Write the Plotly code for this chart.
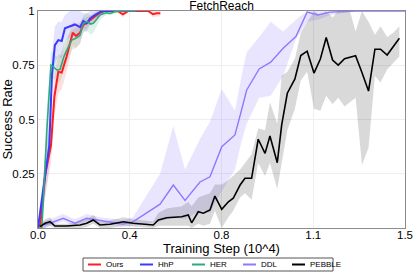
import plotly.graph_objects as go

# ---------------- data (training step in units of 10^4) ----------------
series_names = ["Ours", "HhP", "HER", "DDL", "PEBBLE"]

ours_x = [0, 0.01, 0.03, 0.053, 0.067, 0.083, 0.097, 0.117, 0.142, 0.155, 0.172, 0.185, 0.199,
          0.215, 0.226, 0.24, 0.253, 0.27, 0.3, 0.325, 0.347, 0.37, 0.4, 0.43, 0.45, 0.47, 0.485, 0.5]
ours_y = [0, 0.02, 0.25, 0.38, 0.605, 0.72, 0.716, 0.79, 0.90, 0.885, 0.90, 0.935, 0.946,
          0.959, 0.971, 0.982, 0.992, 1, 1, 1, 0.985, 1, 1, 1, 1, 0.985, 0.99, 0.99]
ours_lo = [0, 0, 0.15, 0.30, 0.52, 0.62, 0.64, 0.72, 0.84, 0.83, 0.85, 0.90, 0.92,
           0.94, 0.95, 0.97, 0.98, 0.99, 1, 1, 0.97, 1, 1, 1, 1, 0.97, 0.975, 0.975]
ours_hi = [0.01, 0.05, 0.35, 0.50, 0.70, 0.80, 0.80, 0.86, 0.95, 0.94, 0.95, 0.97, 0.97,
           0.98, 0.99, 1, 1, 1, 1, 1, 1, 1, 1, 1, 1, 1, 1, 1]

hhp_x = [0, 0.024, 0.046, 0.057, 0.069, 0.083, 0.097, 0.11, 0.131, 0.151, 0.172, 0.185, 0.199,
         0.213, 0.233, 0.253, 0.27, 0.3, 0.35, 0.4]
hhp_y = [0, 0.19, 0.38, 0.705, 0.843, 0.866, 0.862, 0.92, 0.93, 0.938, 0.926, 0.954, 0.943,
         0.966, 0.982, 0.995, 1, 1, 1, 1]
hhp_lo = [0, 0.10, 0.28, 0.60, 0.76, 0.79, 0.78, 0.86, 0.88, 0.89, 0.87, 0.92, 0.90,
          0.94, 0.96, 0.98, 1, 1, 1, 1]
hhp_hi = [0.02, 0.28, 0.50, 0.80, 0.93, 0.95, 0.95, 0.98, 1, 1, 1, 0.99, 0.99,
          1, 1, 1, 1, 1, 1, 1]

her_x = [0, 0.016, 0.036, 0.053, 0.063, 0.077, 0.09, 0.106, 0.124, 0.138, 0.155, 0.172, 0.185,
         0.201, 0.215, 0.226, 0.24, 0.253, 0.278, 0.294, 0.315, 0.35, 0.4]
her_y = [0, 0, 0.45, 0.75, 0.743, 0.728, 0.73, 0.79, 0.835, 0.866, 0.874, 0.889, 0.943,
         0.951, 0.94, 0.943, 0.962, 0.982, 0.992, 0.989, 0.997, 1, 1]
her_lo = [0, 0, 0.35, 0.68, 0.69, 0.67, 0.67, 0.73, 0.78, 0.82, 0.83, 0.85, 0.90,
          0.91, 0.89, 0.90, 0.93, 0.96, 0.98, 0.98, 0.99, 1, 1]
her_hi = [0, 0.03, 0.55, 0.82, 0.80, 0.79, 0.79, 0.85, 0.89, 0.91, 0.92, 0.93, 0.98,
          0.99, 0.98, 0.98, 0.99, 1, 1, 1, 1, 1, 1]

ddl_x = [0.022, 0.049, 0.103, 0.151, 0.199, 0.253, 0.322, 0.347, 0.388, 0.444, 0.499, 0.553,
         0.601, 0.662, 0.703, 0.751, 0.805, 0.832, 0.853, 0.904, 0.951, 1.002, 1.054, 1.10,
         1.144, 1.193, 1.3, 1.4, 1.5]
ddl_y = [0.014, 0.022, 0.045, 0.022, 0.045, 0.034, 0.022, 0.018, 0.028, 0.068, 0.11, 0.198,
         0.127, 0.212, 0.236, 0.375, 0.429, 0.544, 0.636, 0.733, 0.764, 0.828, 0.882, 0.995,
         0.982, 0.995, 1, 1, 1]
ddl_lo = [0, 0.01, 0.03, 0.01, 0.03, 0.02, 0.01, 0.005, 0.01, 0.02, 0.03, 0.05,
          0.04, 0.08, 0.07, 0.17, 0.27, 0.40, 0.48, 0.60, 0.61, 0.70, 0.87, 0.95,
          0.96, 0.98, 1, 1, 1]
ddl_hi = [0.03, 0.04, 0.065, 0.04, 0.065, 0.05, 0.04, 0.035, 0.05, 0.15, 0.25, 0.47,
          0.27, 0.41, 0.49, 0.64, 0.54, 0.70, 0.81, 0.88, 0.95, 0.905, 0.96, 1,
          1, 1, 1, 1, 1]

pebble_x = [0.008, 0.029, 0.049, 0.069, 0.117, 0.172, 0.199, 0.226, 0.253, 0.294, 0.349, 0.389,
            0.471, 0.492, 0.526, 0.587, 0.614, 0.628, 0.655, 0.676, 0.703, 0.723, 0.751, 0.778,
            0.798, 0.826, 0.846, 0.873, 0.90, 0.928, 0.948, 0.978, 0.996, 1.019, 1.05, 1.074,
            1.10, 1.128, 1.154, 1.178, 1.204, 1.227, 1.253, 1.275, 1.298, 1.324, 1.351, 1.377,
            1.40, 1.427, 1.452, 1.477]
pebble_y = [0.006, 0.022, 0.029, 0.009, 0.009, 0.014, 0.022, 0.037, 0.014, 0.017, 0.029, 0.022,
            0.014, 0.037, 0.047, 0.052, 0.06, 0.024, 0.075, 0.068, 0.083, 0.147, 0.086, 0.121,
            0.137, 0.198, 0.229, 0.229, 0.409, 0.344, 0.424, 0.301, 0.475, 0.621, 0.687, 0.795,
            0.815, 0.714, 0.779, 0.878, 0.774, 0.751, 0.78, 0.787, 0.794, 0.717, 0.631, 0.824,
            0.824, 0.797, 0.835, 0.874]
pebble_lo = [0, 0, 0.01, 0, 0, 0, 0.005, 0.02, 0, 0, 0.01, 0.005,
             0, 0.01, 0.01, 0.01, 0.01, 0, 0.02, 0.01, 0.02, 0.08, 0, 0.05,
             0.08, 0.14, 0.16, 0.13, 0.30, 0.24, 0.30, 0.18, 0.30, 0.45, 0.55, 0.68,
             0.72, 0.55, 0.54, 0.61, 0.57, 0.60, 0.56, 0.58, 0.60, 0.29, 0.37, 0.70,
             0.67, 0.73, 0.76, 0.79]
pebble_hi = [0.01, 0.04, 0.05, 0.02, 0.02, 0.03, 0.04, 0.06, 0.03, 0.035, 0.05, 0.04,
             0.03, 0.07, 0.09, 0.10, 0.12, 0.10, 0.14, 0.15, 0.16, 0.20, 0.20, 0.22,
             0.24, 0.27, 0.30, 0.34, 0.46, 0.45, 0.58, 0.48, 0.70, 0.72, 0.78, 0.90,
             0.95, 1.0, 0.98, 1.0, 0.97, 1.0, 1.0, 1.0, 0.905, 1.0, 0.95, 0.89,
             0.93, 0.88, 0.90, 0.93]

x_tickvals = [0, 0.375, 0.75, 1.125, 1.5]
x_ticktext = ["0.0", "0.4", "0.8", "1.1", "1.5"]
y_tickvals = [0.25, 0.5, 0.75, 1]
y_ticktext = ["0.25", "0.5", "0.75", "1"]

# ---------------- styles ----------------
W, H = 415, 277
ML, MR, MT, MB = 38, 10, 11, 49
line_colors = ["#ff1f1f", "#3a3aff", "#2fa882", "#9078ff", "#000000"]
fill_colors = ["rgba(255,60,60,0.16)", "rgba(90,90,255,0.16)", "rgba(40,170,120,0.16)",
               "rgba(150,125,255,0.20)", "rgba(0,0,0,0.15)"]
line_widths = [2, 2, 1.6, 1.4, 1.6]

data = [
    (ours_x, ours_y, ours_lo, ours_hi),
    (hhp_x, hhp_y, hhp_lo, hhp_hi),
    (her_x, her_y, her_lo, her_hi),
    (ddl_x, ddl_y, ddl_lo, ddl_hi),
    (pebble_x, pebble_y, pebble_lo, pebble_hi),
]

fig = go.Figure()
for name, (xs, ys, lo, hi), lc, fc, lw in zip(series_names, data, line_colors, fill_colors, line_widths):
    fig.add_trace(go.Scatter(
        x=list(xs) + list(xs)[::-1], y=list(hi) + list(lo)[::-1],
        fill="toself", fillcolor=fc, line=dict(width=0), mode="lines",
        hoverinfo="skip", showlegend=False))
for name, (xs, ys, lo, hi), lc, fc, lw in zip(series_names, data, line_colors, fill_colors, line_widths):
    fig.add_trace(go.Scatter(x=xs, y=ys, mode="lines", name=name,
                             line=dict(color=lc, width=lw), showlegend=False))

# ---- compact legend box below the plot (pixel positions -> paper coords) ----
pw, ph = W - ML - MR, H - MT - MB
def px_x(p):
    return (p - ML) / pw
def px_y(p):
    return (H - MB - p) / ph

leg_left, leg_right, leg_top, leg_bot = 83, 333, 258, 271
leg_mid = (leg_top + leg_bot) / 2
item_starts = [88, 140, 192, 243, 292]
shapes = [dict(type="rect", xref="paper", yref="paper",
               x0=px_x(leg_left), x1=px_x(leg_right), y0=px_y(leg_bot), y1=px_y(leg_top),
               line=dict(color="#555555", width=1), fillcolor="white", layer="above")]
annotations = []
for name, lc, xs0 in zip(series_names, line_colors, item_starts):
    shapes.append(dict(type="line", xref="paper", yref="paper",
                       x0=px_x(xs0), x1=px_x(xs0 + 13), y0=px_y(leg_mid), y1=px_y(leg_mid),
                       line=dict(color=lc, width=2), layer="above"))
    annotations.append(dict(text=name, xref="paper", yref="paper", x=px_x(xs0 + 16),
                            y=px_y(leg_mid), xanchor="left", yanchor="middle",
                            showarrow=False, font=dict(size=8, color="black")))

font_family = "Liberation Sans, Arial, sans-serif"
fig.update_layout(
    template="none",
    width=W, height=H,
    margin=dict(l=ML, r=MR, t=MT, b=MB),
    paper_bgcolor="white", plot_bgcolor="white",
    font=dict(family=font_family, color="black", size=11.5),
    title=dict(text="FetchReach", x=0.5, xref="paper", xanchor="center",
               y=1 - 6 / H, yref="container", yanchor="middle",
               font=dict(size=12, color="black")),
    xaxis=dict(range=[0, 1.5], tickvals=x_tickvals, ticktext=x_ticktext,
               showgrid=True, gridcolor="#eeeeee", gridwidth=1,
               showline=True, linecolor="#8c8c8c", linewidth=1, mirror=True,
               ticks="", ticklen=0, ticklabelstandoff=-4, zeroline=False, automargin=False,
               title=dict(text="Training Step (10^4)", font=dict(size=13), standoff=0)),
    yaxis=dict(range=[0, 1], tickvals=y_tickvals, ticktext=y_ticktext,
               showgrid=True, gridcolor="#eeeeee", gridwidth=1,
               showline=True, linecolor="#8c8c8c", linewidth=1, mirror=True,
               ticks="", zeroline=False, automargin=False,
               title=dict(text="Success Rate", font=dict(size=13))),
    showlegend=False,
    shapes=shapes,
    annotations=annotations,
)

fig.write_html("out.html", config={"displayModeBar": False},
               post_script="document.body.style.margin='0';document.body.style.overflow='hidden';")
